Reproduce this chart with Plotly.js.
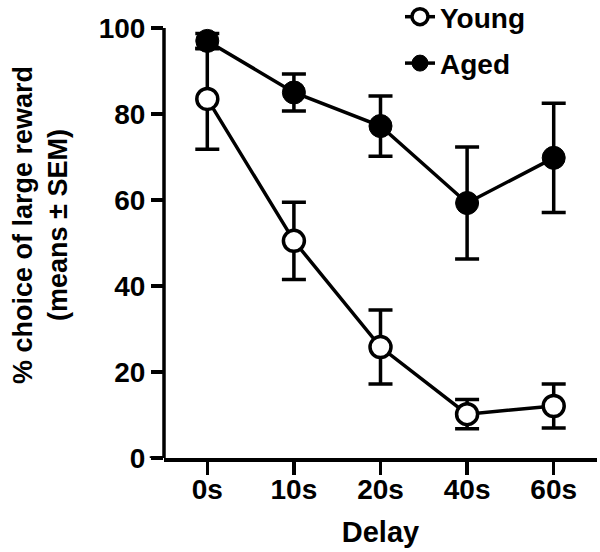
<!DOCTYPE html>
<html><head><meta charset="utf-8">
<script src="https://cdn.plot.ly/plotly-3.0.1.min.js"></script>
<style>html,body{margin:0;padding:0;background:#fff;overflow:hidden}#chart{width:600px;height:560px;margin-top:-8px}</style>
</head><body><div id="chart"></div>
<script>
var delays = ['0s', '10s', '20s', '40s', '60s'];
var youngMean = [83.5, 50.5, 25.8, 10.2, 12.1];
var youngSEM = [11.7, 9.0, 8.6, 3.4, 5.1];
var agedMean = [97.0, 85.0, 77.2, 59.3, 69.8];
var agedSEM = [1.7, 4.3, 7.0, 13.0, 12.7];
var yTicks = [0, 20, 40, 60, 80, 100];

var FONT = 'Liberation Sans, Arial, Helvetica, sans-serif';

var young = {
  x: delays, y: youngMean, name: 'Young', type: 'scatter', mode: 'lines+markers',
  legendgroup: 'y', cliponaxis: false,
  line: {color: '#000', width: 3.5},
  marker: {size: 21, color: '#fff', line: {color: '#000', width: 3.5}},
  error_y: {type: 'data', array: youngSEM, visible: true, color: '#000', thickness: 3.5, width: 12}
};
var aged = {
  x: delays, y: agedMean, name: 'Aged', type: 'scatter', mode: 'lines+markers',
  legendgroup: 'a', cliponaxis: false,
  line: {color: '#000', width: 3.5},
  marker: {size: 23, color: '#000', line: {color: '#000', width: 1}},
  error_y: {type: 'data', array: agedSEM, visible: true, color: '#000', thickness: 3.5, width: 12}
};

var layout = {
  width: 600, height: 560,
  margin: {l: 164, r: 3, t: 0, b: 94},
  paper_bgcolor: '#fff', plot_bgcolor: '#fff',
  font: {family: FONT, color: '#000', size: 28, weight: 'bold'},
  showlegend: true,
  legend: {x: 0.545, xanchor: 'left', y: 1, yanchor: 'top',
           bgcolor: 'rgba(0,0,0,0)',
           font: {size: 28, family: FONT, weight: 'bold'}, tracegroupgap: 7},
  xaxis: {
    type: 'category', range: [-0.5, 4.5], showgrid: false, zeroline: false,
    showline: true, linecolor: '#000', linewidth: 3.5,
    ticks: 'outside', ticklen: 13, tickwidth: 3.5, tickcolor: '#000',
    tickfont: {size: 28, family: FONT, weight: 'bold'}, ticklabelstandoff: -9,
    title: {text: 'Delay', font: {size: 29, family: FONT, weight: 'bold'}, standoff: 18},
    automargin: false
  },
  yaxis: {
    range: [0, 108.37], tickvals: yTicks, showgrid: false, zeroline: false,
    showline: false,
    ticks: 'outside', ticklen: 12, tickwidth: 3.5, tickcolor: '#000',
    tickfont: {size: 28, family: FONT, weight: 'bold'},
    title: {text: '% choice of large reward<br>(means \u00b1 SEM)', font: {size: 27, family: FONT, weight: 'bold'}, standoff: 23},
    automargin: false
  },
  shapes: [
    {type: 'line', xref: 'paper', yref: 'y', x0: -0.033, x1: 0, y0: 0, y1: 0,
     line: {color: '#000', width: 3.5}},
    {type: 'line', xref: 'paper', yref: 'y', x0: 0, x1: 0, y0: 0, y1: 100,
     line: {color: '#000', width: 3.5}}
  ]
};

Plotly.newPlot('chart', [young, aged], layout, {staticPlot: true, displayModeBar: false});
</script></body></html>
